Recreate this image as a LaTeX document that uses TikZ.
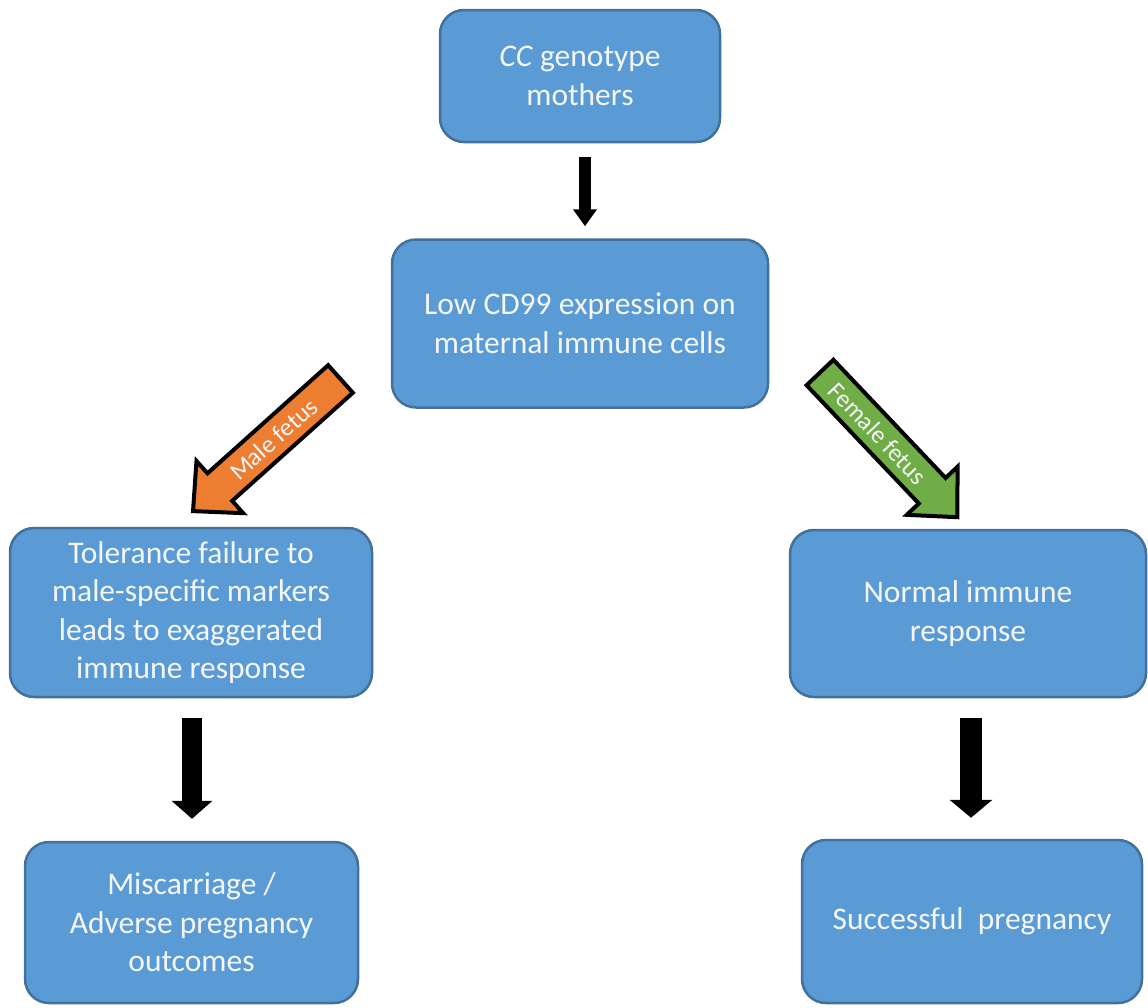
\documentclass[tikz,border=0pt]{standalone}
\usepackage{fontspec}
\setmainfont{Carlito}
\usetikzlibrary{arrows.meta}
\definecolor{boxfill}{HTML}{5B9BD5}
\definecolor{boxline}{HTML}{41719C}
\definecolor{orangeA}{HTML}{ED7D31}
\definecolor{greenA}{HTML}{70AD47}
\definecolor{boxtext}{HTML}{F4F6F8}
\begin{document}
\begin{tikzpicture}[x=1pt,y=-1pt,
  box/.style={draw=boxline, line width=2.5pt, fill=boxfill, rounded corners=24pt,
    text=boxtext, align=center, inner sep=0pt,
    font=\fontsize{31.5}{38.5}\selectfont},
  blk/.style={draw=black, line cap=butt},
  fat/.style={draw=black, line width=4pt, line join=miter, miter limit=10},
  fattext/.style={text=boxtext, font=\fontsize{25}{28}\selectfont, inner sep=0pt}
]
\useasboundingbox (0,0) rectangle (1148,1007);

% boxes
\node[box, minimum width=280pt, minimum height=132pt] (b1) at (580,76)
  {\textit{CC} genotype\\mothers};
\node[box, minimum width=376pt, minimum height=168pt] (b2) at (580,323.5)
  {Low CD99 expression on\\maternal immune cells};
\node[box, minimum width=362pt, minimum height=169pt] (b3) at (191,612.5)
  {Tolerance failure to\\male-specific markers\\leads to exaggerated\\immune response};
\node[box, minimum width=356pt, minimum height=167pt] (b4) at (968,613.5)
  {Normal immune\\response};
\node[box, minimum width=333pt, minimum height=161pt] (b5) at (191.5,922.5)
  {Miscarriage /\\Adverse pregnancy\\outcomes};
\node[box, minimum width=340pt, minimum height=163pt] (b6) at (972,921.5)
  {Successful\ \ pregnancy};

% black arrows
\draw[blk, line width=12pt, -{Triangle[length=17pt,width=23pt]},
  shorten <=14pt, shorten >=12pt]
  ([xshift=5pt]b1.south) -- ([xshift=5pt]b1.south |- b2.north);
\draw[blk, line width=20pt, -{Triangle[length=18pt,width=40pt]},
  shorten <=20pt, shorten >=22pt]
  ([xshift=1pt]b3.south) -- ([xshift=1pt]b3.south |- b5.north);
\draw[blk, line width=22pt, -{Triangle[length=18pt,width=42pt]},
  shorten <=20pt, shorten >=21pt]
  ([xshift=3pt]b4.south) -- ([xshift=3pt]b4.south |- b6.north);

% orange block arrow (male fetus)
\coordinate (mtail) at (340.5,379);
\begin{scope}[shift={(mtail)}, rotate=221.85]
  \filldraw[fat, fill=orangeA] (0,-18.5) -- (162,-18.5) -- (162,-35) -- (198,0)
    -- (162,35) -- (162,18.5) -- (0,18.5) -- cycle;
  \node[fattext, rotate=41.85] (mlabel) at (90,0) {Male fetus};
\end{scope}

% green block arrow (female fetus)
\coordinate (ftail) at (820,372.5);
\begin{scope}[shift={(ftail)}, rotate=-46.5]
  \filldraw[fat, fill=greenA] (0,-18.5) -- (163,-18.5) -- (163,-35) -- (199.5,0)
    -- (163,35) -- (163,18.5) -- (0,18.5) -- cycle;
  \node[fattext, rotate=-46.5] (flabel) at (84,0) {Female fetus};
\end{scope}
\end{tikzpicture}
\end{document}
